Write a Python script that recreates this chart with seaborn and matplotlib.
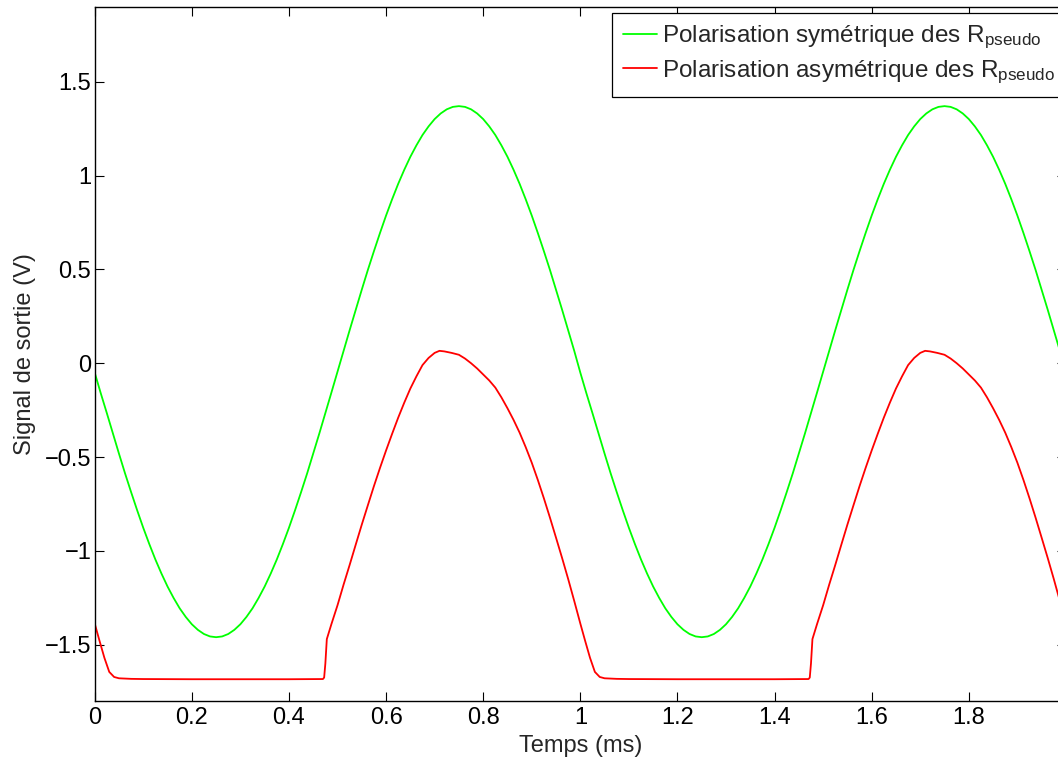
import matplotlib
matplotlib.use("Agg")
import matplotlib.pyplot as plt
from matplotlib.ticker import FuncFormatter
import seaborn as sns

# temps (ms) et signal (V) relevés sur la figure, pas de 0.0125 ms
green_t = [round(i * 0.0125, 4) for i in range(161)]
# une période (0 -> 0.9875 ms), la figure en montre deux identiques
green_cycle = [-0.05, -0.16, -0.266, -0.375, -0.482, -0.587, -0.687, -0.784,
               -0.877, -0.964, -1.046, -1.121, -1.190, -1.251, -1.306, -1.352,
               -1.391, -1.421, -1.443, -1.456, -1.46, -1.456, -1.443, -1.421,
               -1.391, -1.352, -1.306, -1.251, -1.190, -1.121, -1.046, -0.964,
               -0.877, -0.784, -0.687, -0.587, -0.482, -0.375, -0.266, -0.156,
               -0.045, 0.066, 0.176, 0.285, 0.392, 0.497, 0.597, 0.694,
               0.787, 0.874, 0.956, 1.031, 1.100, 1.161, 1.216, 1.262,
               1.301, 1.331, 1.353, 1.366, 1.37, 1.366, 1.353, 1.331,
               1.301, 1.262, 1.216, 1.161, 1.100, 1.031, 0.956, 0.874,
               0.787, 0.694, 0.597, 0.497, 0.392, 0.285, 0.176, 0.066]
green_v = green_cycle + green_cycle + [-0.05]

red_t = [0.0, 0.01, 0.02, 0.03, 0.04, 0.05, 0.075, 0.1, 0.2, 0.3, 0.4,
         0.47, 0.4725, 0.475, 0.478, 0.4875, 0.5, 0.5125, 0.525, 0.5375, 0.55,
         0.5625, 0.575, 0.5875, 0.6, 0.6125, 0.625, 0.6375, 0.65, 0.6625,
         0.675, 0.6875, 0.7, 0.71, 0.72, 0.735, 0.75, 0.7625, 0.775, 0.7875,
         0.8, 0.8125, 0.825, 0.8375, 0.85, 0.8625, 0.875, 0.8875, 0.9, 0.9125,
         0.925, 0.9375, 0.95, 0.9625, 0.975, 0.9875,
         1.0, 1.01, 1.02, 1.03, 1.04, 1.05, 1.075, 1.1, 1.2, 1.3, 1.4,
         1.47, 1.4725, 1.475, 1.478, 1.4875, 1.5, 1.5125, 1.525, 1.5375, 1.55,
         1.5625, 1.575, 1.5875, 1.6, 1.6125, 1.625, 1.6375, 1.65, 1.6625,
         1.675, 1.6875, 1.7, 1.71, 1.72, 1.735, 1.75, 1.7625, 1.775, 1.7875,
         1.8, 1.8125, 1.825, 1.8375, 1.85, 1.8625, 1.875, 1.8875, 1.9, 1.9125,
         1.925, 1.9375, 1.95, 1.9625, 1.975, 1.9875, 2.0]
red_v = [-1.387, -1.48, -1.57, -1.645, -1.672, -1.679, -1.682, -1.683, -1.684, -1.684, -1.684,
         -1.683, -1.675, -1.60, -1.47, -1.39, -1.29, -1.18, -1.075, -0.967, -0.86,
         -0.757, -0.655, -0.558, -0.465, -0.376, -0.29, -0.21, -0.135, -0.07,
         -0.01, 0.028, 0.055, 0.066, 0.063, 0.055, 0.045, 0.025, 0.0, -0.028,
         -0.06, -0.092, -0.13, -0.182, -0.24, -0.302, -0.37, -0.447, -0.53, -0.622,
         -0.72, -0.823, -0.93, -1.038, -1.15, -1.267,
         -1.387, -1.48, -1.57, -1.645, -1.672, -1.679, -1.682, -1.683, -1.684, -1.684, -1.684,
         -1.683, -1.675, -1.60, -1.47, -1.39, -1.29, -1.18, -1.075, -0.967, -0.86,
         -0.757, -0.655, -0.558, -0.465, -0.376, -0.29, -0.21, -0.135, -0.07,
         -0.01, 0.028, 0.055, 0.066, 0.063, 0.055, 0.045, 0.025, 0.0, -0.028,
         -0.06, -0.092, -0.13, -0.182, -0.24, -0.302, -0.37, -0.447, -0.53, -0.622,
         -0.72, -0.823, -0.93, -1.038, -1.15, -1.267, -1.39]

labels = ["Polarisation symétrique des R$_{pseudo}$",
          "Polarisation asymétrique des R$_{pseudo}$"]
xticks = [0, 0.2, 0.4, 0.6, 0.8, 1, 1.2, 1.4, 1.6, 1.8]
yticks = [-1.5, -1, -0.5, 0, 0.5, 1, 1.5]

sns.set_style("ticks")
plt.rcParams["font.family"] = ["Liberation Sans", "DejaVu Sans"]
plt.rcParams["mathtext.default"] = "regular"

fig = plt.figure(figsize=(10.58, 7.58), dpi=100)
# l'axe dépasse un peu à droite, comme sur la figure d'origine
ax = fig.add_axes([0.0895, 0.0752, 0.918, 0.916])

sns.lineplot(x=green_t, y=green_v, color="#00ff00", lw=1.3, label=labels[0],
             estimator=None, sort=False, ax=ax)
sns.lineplot(x=red_t, y=red_v, color="#ff0000", lw=1.3, label=labels[1],
             estimator=None, sort=False, ax=ax)

ax.set_xlim(0, 2)
ax.set_ylim(-1.8, 1.9)
ax.set_xticks(xticks)
ax.set_yticks(yticks)
fmt = FuncFormatter(lambda v, p: f"{v:g}".replace("-", "\u2212"))
ax.xaxis.set_major_formatter(fmt)
ax.yaxis.set_major_formatter(fmt)
ax.tick_params(direction="in", length=6.5, width=0.8, top=True, right=True,
               labelsize=17, colors="black")
ax.tick_params(axis="x", pad=4)
ax.tick_params(axis="y", pad=2.5)
for sp in ax.spines.values():
    sp.set_visible(True)
    sp.set_linewidth(1.0)
    sp.set_color("black")

ax.set_xlabel("Temps (ms)", fontsize=17, labelpad=5)
ax.set_ylabel("Signal de sortie (V)", fontsize=17, labelpad=6)

# la légende déborde à droite de l'image, comme dans l'original
ax.legend(loc="upper right", bbox_to_anchor=(1.0, 0.9914), borderaxespad=0,
          fontsize=17.5, frameon=True, fancybox=False, edgecolor="black",
          framealpha=1, handlelength=1.4, handletextpad=0.2, borderpad=0.45,
          labelspacing=0.3)
ax.get_legend().get_frame().set_linewidth(0.9)

fig.savefig("out.png", dpi=100)
